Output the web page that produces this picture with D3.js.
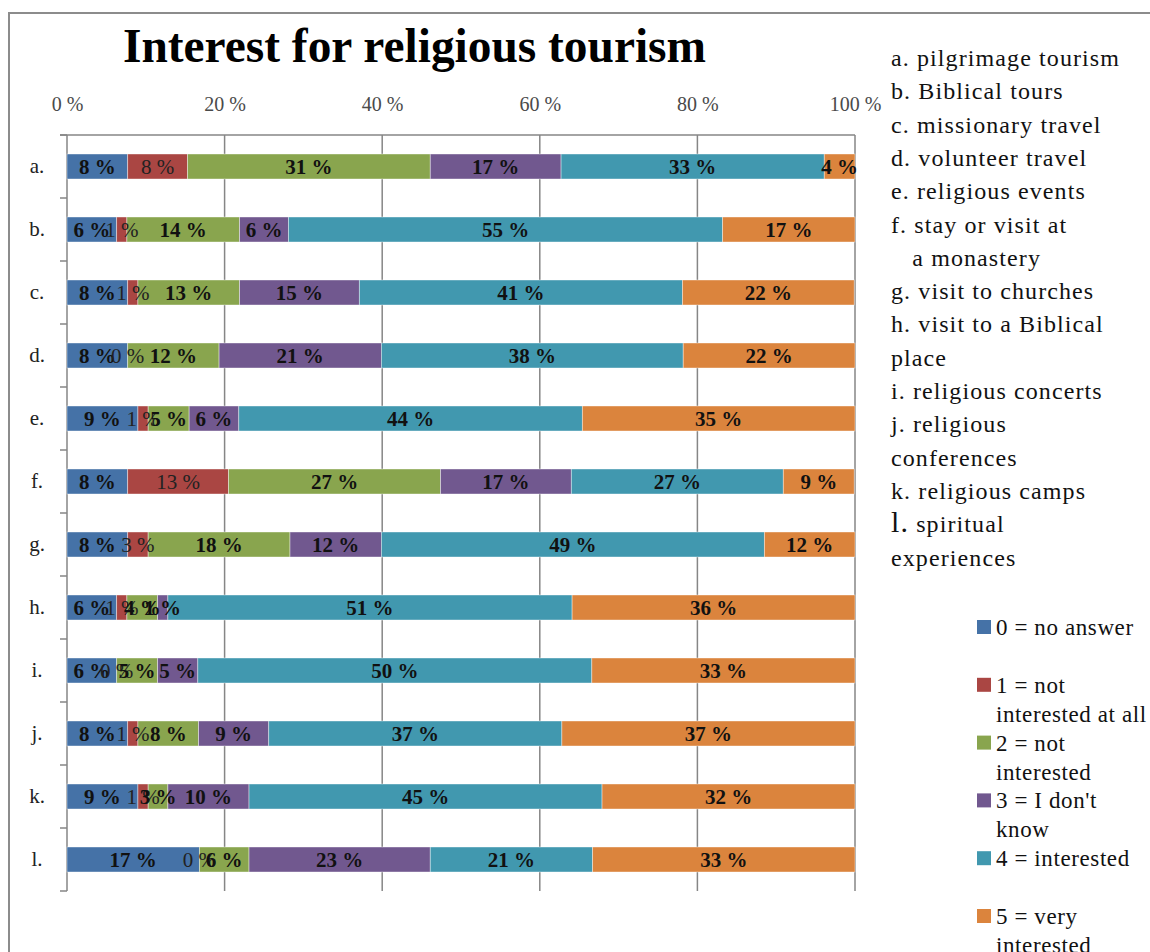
<!DOCTYPE html>
<html>
<head>
<meta charset="utf-8">
<script src="https://cdn.jsdelivr.net/npm/d3@7"></script>
<style>
  html, body { margin: 0; padding: 0; background: #fff; }
  svg { display: block; font-family: "Liberation Serif", "DejaVu Serif", serif; }
  svg text { font-family: "Liberation Serif", "DejaVu Serif", serif; }
</style>
</head>
<body>
<svg id="chart" width="1150" height="952"></svg>
<script>
// ---- data ----
const categories = ["a.", "b.", "c.", "d.", "e.", "f.", "g.", "h.", "i.", "j.", "k.", "l."];
const seriesNames = ["0 = no answer", "1 = not interested at all", "2 = not interested", "3 = I don't know", "4 = interested", "5 = very interested"];
const noAnswer        = [7.7, 6.3, 7.7, 7.7, 9.0, 7.7, 7.7, 6.3, 6.3, 7.7, 9.0, 16.8];
const notAtAll        = [7.6, 1.3, 1.3, 0.0, 1.3, 12.8, 2.6, 1.3, 0.0, 1.3, 1.3, 0.0];
const notInterested   = [30.8, 14.3, 12.9, 11.6, 5.2, 26.9, 18.0, 3.9, 5.2, 7.7, 2.5, 6.3];
const dontKnow        = [16.6, 6.2, 15.2, 20.6, 6.3, 16.6, 11.6, 1.3, 5.1, 8.9, 10.3, 23.0];
const interested      = [33.4, 55.1, 41.0, 38.3, 43.6, 26.9, 48.6, 51.3, 50.0, 37.2, 44.8, 20.6];
const veryInterested  = [3.9, 16.8, 21.8, 21.8, 34.6, 9.0, 11.5, 35.9, 33.4, 37.2, 32.1, 33.3];
const xTicks = [0, 20, 40, 60, 80, 100];
const title = "Interest for religious tourism";
const categoryLegend = [
  ["a. pilgrimage tourism"], ["b. Biblical tours"], ["c. missionary travel"], ["d. volunteer travel"],
  ["e. religious events"], ["f. stay or visit at", "   a monastery"], ["g. visit to churches"],
  ["h. visit to a Biblical", "place"], ["i. religious concerts"], ["j. religious", "conferences"],
  ["k. religious camps"], ["l. spiritual", "experiences"]
];
const seriesLegend = [["0 = no answer"], ["1 = not", "interested at all"], ["2 = not", "interested"],
  ["3 = I don't", "know"], ["4 = interested"], ["5 = very", "interested"]];

const colors = ["#4572A7", "#AA4643", "#89A54E", "#71588F", "#4198AF", "#DB843D"];
const seriesValues = [noAnswer, notAtAll, notInterested, dontKnow, interested, veryInterested];

// ---- build table ----
const rows = categories.map((c, i) => {
  const r = { cat: c };
  seriesValues.forEach((s, k) => r["s" + k] = s[i]);
  return r;
});
const keys = seriesValues.map((s, k) => "s" + k);
const stacked = d3.stack().keys(keys)(rows);

const svg = d3.select("#chart");
const FONT = "Liberation Serif";

// frame
svg.append("path").attr("d", "M9,952 L9,13 L1150,13").attr("fill", "none").attr("stroke", "#8c8c8c").attr("stroke-width", 2);

const pL = 67, pR = 855, pT = 135, pB = 891;
const x = d3.scaleLinear().domain([0, 100]).range([pL, pR]);
const y = d3.scaleBand().domain(categories).range([pT, pB]).paddingInner(0.6).paddingOuter(0.3);

// gridlines
svg.append("g").selectAll("line").data(xTicks.filter(t => t > 0)).join("line")
  .attr("x1", d => x(d)).attr("x2", d => x(d)).attr("y1", pT).attr("y2", pB)
  .attr("stroke", "#868686").attr("stroke-width", 1.5);

// top axis
const xAxis = d3.axisTop(x).tickValues(xTicks).tickSize(0).tickPadding(0).tickFormat(d => d + " %");
const gx = svg.append("g").attr("transform", `translate(0,${pT})`).call(xAxis);
gx.attr("font-family", FONT);
gx.select(".domain").remove();
gx.selectAll("text").attr("y", -24).attr("font-size", 20).attr("fill", "#4a4a4a");
svg.append("line").attr("x1", pL - 7).attr("x2", pR).attr("y1", pT).attr("y2", pT)
  .attr("stroke", "#868686").attr("stroke-width", 1.5);

// left axis with ticks at category boundaries
const boundaries = d3.range(categories.length + 1).map(i => pT + i * (pB - pT) / categories.length);
svg.append("line").attr("x1", pL).attr("x2", pL).attr("y1", pT).attr("y2", pB)
  .attr("stroke", "#868686").attr("stroke-width", 1.5);
svg.append("g").selectAll("line").data(boundaries).join("line")
  .attr("x1", pL - 7).attr("x2", pL).attr("y1", d => d).attr("y2", d => d)
  .attr("stroke", "#868686").attr("stroke-width", 1.5);
const yAxis = d3.axisLeft(y).tickSize(0).tickPadding(0);
const gy = svg.append("g").attr("transform", `translate(${pL},0)`).call(yAxis);
gy.attr("font-family", FONT);
gy.select(".domain").remove();
gy.selectAll("text").attr("x", -30).attr("text-anchor", "middle").attr("font-size", 21)
  .attr("fill", "#222");

// bars
const bh = 25;
const layers = svg.append("g").selectAll("g").data(stacked).join("g").attr("fill", (d, i) => colors[i]);
layers.selectAll("rect").data(d => d).join("rect")
  .attr("x", d => x(d[0])).attr("width", d => x(d[1]) - x(d[0]))
  .attr("y", d => y(d.data.cat) + y.bandwidth() / 2 - bh / 2).attr("height", bh)
  .attr("stroke", "rgba(255,255,255,0.5)").attr("stroke-width", 0.8);

// labels
stacked.forEach((layer, i) => {
  svg.append("g").selectAll("text").data(layer).join("text")
    .attr("x", d => (x(d[0]) + x(d[1])) / 2)
    .attr("y", d => y(d.data.cat) + y.bandwidth() / 2 + 7)
    .attr("text-anchor", "middle")
    .attr("font-size", 21)
    .attr("font-family", FONT)
    .attr("font-weight", i === 1 ? "normal" : "bold")
    .attr("fill", i === 1 ? "#222" : "#111")
    .text(d => Math.round(d[1] - d[0]) + " %");
});

// title
svg.append("text").attr("x", 123).attr("y", 62).attr("font-size", 48).attr("font-weight", "bold")
  .attr("font-family", FONT)
  .attr("textLength", 583).attr("lengthAdjust", "spacingAndGlyphs").attr("fill", "#000").text(title);

// category legend
let line = 0;
const cl = svg.append("g").attr("font-family", FONT);
categoryLegend.forEach((item, i) => {
  item.forEach((t, j) => {
    const txt = cl.append("text").attr("x", 891).attr("y", 66 + line * 33.3)
      .attr("font-size", 24).attr("letter-spacing", 1.1).attr("fill", "#111").attr("xml:space", "preserve");
    if (i === 11 && j === 0) {
      txt.append("tspan").attr("font-size", 30).text("l.");
      txt.append("tspan").text(" spiritual");
    } else {
      txt.text(t);
    }
    line++;
  });
});

// series legend
const sl = svg.append("g").attr("font-family", FONT);
seriesLegend.forEach((item, i) => {
  const cy = 627 + i * 57.8;
  sl.append("rect").attr("x", 977).attr("y", cy - 7).attr("width", 14).attr("height", 14).attr("fill", colors[i]);
  item.forEach((t, j) => {
    sl.append("text").attr("x", 996).attr("y", cy + 8 + j * 29).attr("font-size", 23)
      .attr("letter-spacing", 0.6).attr("fill", "#111").text(t);
  });
});
</script>
</body>
</html>
